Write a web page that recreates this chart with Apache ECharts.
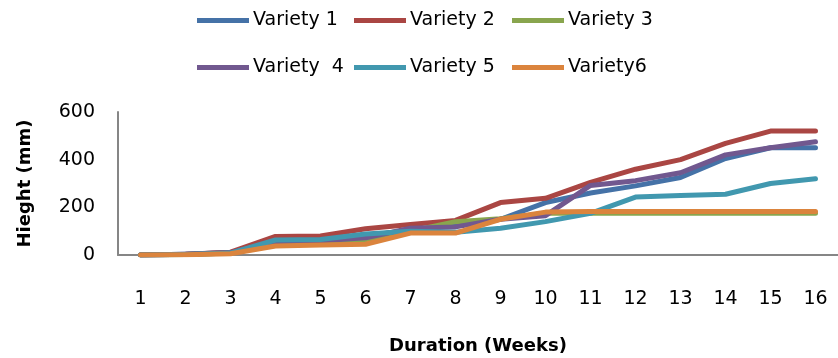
<!DOCTYPE html>
<html>
<head>
<meta charset="utf-8">
<title>Plant height by variety</title>
<script src="https://cdn.jsdelivr.net/npm/echarts@6/dist/echarts.min.js"></script>
<style>
  html, body { margin: 0; padding: 0; background: #ffffff; }
  #chart { width: 838px; height: 358px; }
</style>
</head>
<body>
<div id="chart"></div>
<script>
// Weeks after sowing
const weeks = ['1', '2', '3', '4', '5', '6', '7', '8', '9', '10', '11', '12', '13', '14', '15', '16'];

// Plant height (mm) per variety, week by week
const variety1 = [0, 3, 10, 60, 65, 80, 105, 125, 150, 220, 260, 290, 325, 405, 450, 450];
const variety2 = [0, 3, 12, 78, 80, 110, 128, 145, 220, 238, 305, 360, 400, 468, 520, 520];
const variety3 = [0, 2, 8, 50, 55, 60, 100, 140, 152, 175, 175, 175, 175, 175, 175, 175];
const variety4 = [0, 3, 10, 55, 60, 72, 112, 118, 150, 165, 292, 312, 345, 420, 450, 475];
const variety5 = [0, 2, 8, 63, 65, 88, 100, 95, 112, 140, 175, 243, 250, 255, 300, 320];
const variety6 = [0, 1, 5, 38, 42, 45, 92, 92, 150, 180, 182, 182, 182, 182, 182, 182];

const seriesNames = ['Variety 1', 'Variety 2', 'Variety 3', 'Variety  4', 'Variety 5', 'Variety6'];
const seriesData = [variety1, variety2, variety3, variety4, variety5, variety6];
const colors = ['#4572A7', '#AA4643', '#89A54E', '#71588F', '#4198AF', '#DB843D'];

const FONT = 'DejaVu Sans';

// One legend per entry so the two rows line up in three columns
const legendCols = [197, 354, 512];
const legendRows = [11, 58];
const legends = seriesNames.map((name, i) => ({
  data: [name],
  left: legendCols[i % 3],
  top: legendRows[Math.floor(i / 3)],
  padding: 0,
  itemWidth: 52,
  itemHeight: 14,
  itemGap: 0,
  icon: 'path://M0,5.5 L52,5.5 L52,10.5 L0,10.5 Z',
  textStyle: { fontFamily: FONT, fontSize: 19, color: '#000000', padding: [0, 0, 0, -1] },
  selectedMode: false
}));

const chart = echarts.init(document.getElementById('chart'), null, { renderer: 'canvas' });

chart.setOption({
  animation: false,
  color: colors,
  legend: legends,
  grid: { left: 118, right: -7, top: 112, bottom: 103, containLabel: false },
  xAxis: {
    type: 'category',
    data: weeks,
    boundaryGap: true,
    name: 'Duration (Weeks)',
    nameLocation: 'middle',
    nameGap: 82,
    nameTextStyle: { fontFamily: FONT, fontSize: 18, fontWeight: 'bold', color: '#000000' },
    axisLine: { lineStyle: { color: '#868686', width: 2 } },
    axisTick: { show: false },
    axisLabel: { fontFamily: FONT, fontSize: 19, color: '#000000', margin: 35 },
    splitLine: { show: false }
  },
  yAxis: {
    type: 'value',
    min: 0,
    max: 600,
    interval: 200,
    name: 'Hieght (mm)',
    nameLocation: 'middle',
    nameGap: 84,
    nameTextStyle: { fontFamily: FONT, fontSize: 18, fontWeight: 'bold', color: '#000000' },
    axisLine: { show: true, lineStyle: { color: '#868686', width: 2 } },
    axisTick: { show: false },
    axisLabel: { fontFamily: FONT, fontSize: 19, color: '#000000', margin: 23 },
    splitLine: { show: false }
  },
  series: seriesNames.map((name, i) => ({
    name: name,
    type: 'line',
    data: seriesData[i],
    symbol: 'none',
    smooth: false,
    lineStyle: { width: 5, color: colors[i], cap: 'round', join: 'round' },
    itemStyle: { color: colors[i] }
  }))
});
</script>
</body>
</html>
